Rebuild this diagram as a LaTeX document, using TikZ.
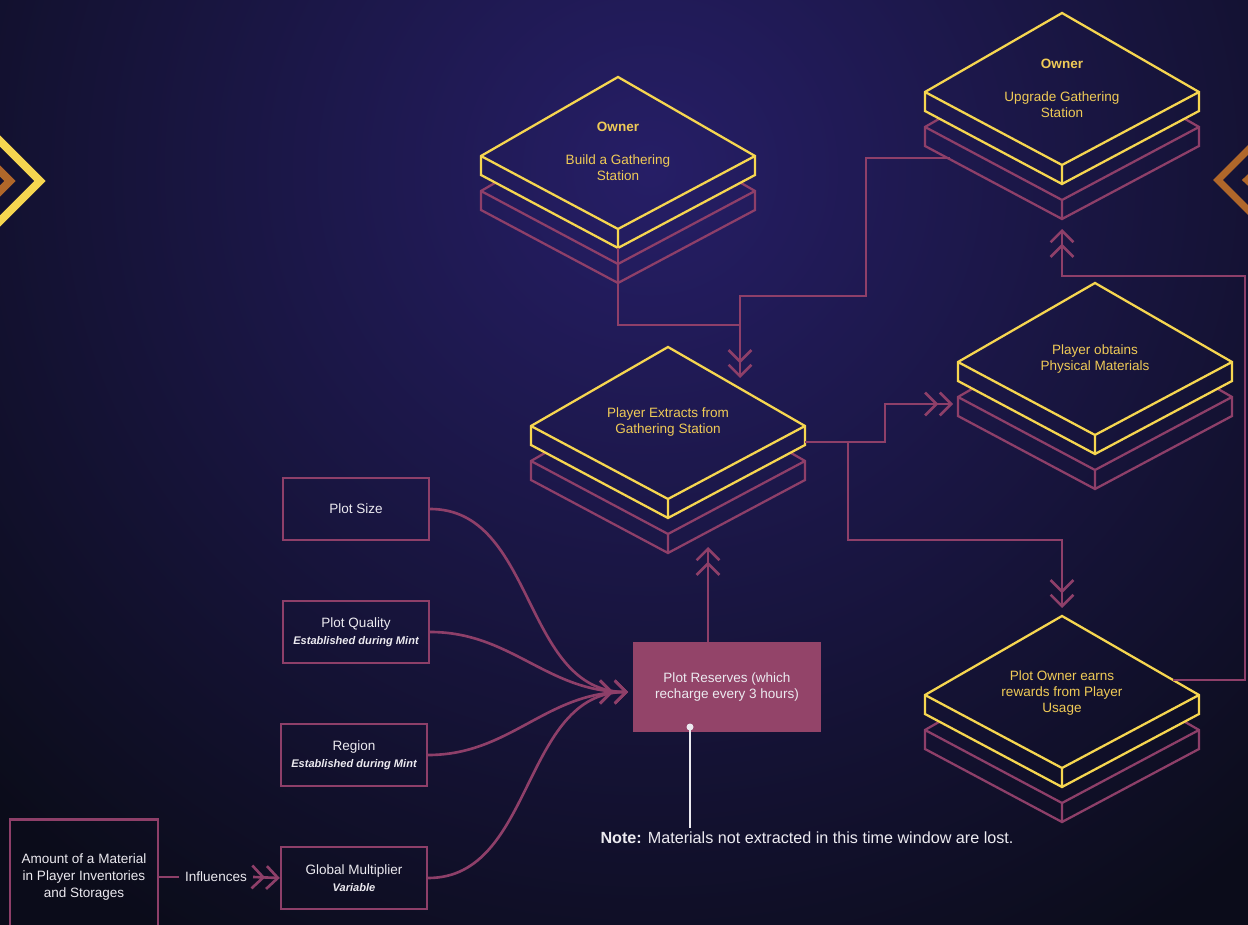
\documentclass[tikz,border=0pt]{standalone}
\usepackage{fontspec}
\setmainfont{Liberation Sans}
\usetikzlibrary{arrows.meta}
\usetikzlibrary{positioning}

\definecolor{bgdark}{HTML}{0B0C1A}
\definecolor{bgglow}{HTML}{261E66}
\definecolor{gold}{HTML}{F6D650}
\definecolor{goldtext}{HTML}{F0CB57}
\definecolor{plum}{HTML}{8E3F69}
\definecolor{plumfill}{HTML}{934469}
\definecolor{amber}{HTML}{B0672A}
\definecolor{paletext}{HTML}{ECEAF0}

\newcommand{\mintline}[1]{{\bfseries\itshape\fontsize{6.3}{7.6}\selectfont #1}}

\begin{document}
\begin{tikzpicture}[x=0.02cm,y=-0.02cm,
    >={Straight Barb[length=6.5pt,width=13pt]},
    rim/.style={line width=1.3pt,line join=miter},
    link/.style={plum,line width=1.5pt},
    slabtxt/.style={text=goldtext,align=center,font=\fontsize{7.7}{9.1}\selectfont},
    ownertxt/.style={text=goldtext,font=\bfseries\fontsize{7.7}{9.1}\selectfont},
    factor/.style={draw=plum,line width=1.4pt,text=paletext,align=center,
        minimum width=2.92cm,minimum height=1.24cm,inner sep=0pt,
        font=\fontsize{7.7}{9.6}\selectfont},
    slab/.pic={
        % plum slab underneath, hidden where the gold one sits
        \begin{scope}[even odd rule]
            \clip (-170,-30) rectangle (170,250)
                (0,0) -- (137,79) -- (137,98) -- (0,171) -- (-137,98) -- (-137,79) -- cycle;
            \draw[plum,rim] (0,35) -- (137,114) -- (137,133) -- (0,206) -- (-137,133) -- (-137,114) -- cycle
                (-137,114) -- (0,187) -- (137,114) (0,187) -- (0,206);
        \end{scope}
        \draw[gold,rim] (0,0) -- (137,79) -- (137,98) -- (0,171) -- (-137,98) -- (-137,79) -- cycle
            (-137,79) -- (0,152) -- (137,79) (0,152) -- (0,171);
        \coordinate (-base) at (0,171);
        \coordinate (-east) at (137,95);
    }
]
\useasboundingbox (0,0) rectangle (1248,925);
\clip (0,0) rectangle (1248,925);

% background
\fill[bgdark] (0,0) rectangle (1248,925);
\shade[inner color=bgglow,outer color=bgdark] (650,170) ellipse (920 and 900);

% side marks
\draw[gold,line width=4.5pt,line join=miter] (-10,131) -- (40,181) -- (-10,231);
\draw[amber,line width=4.5pt,line join=miter] (-12,159) -- (10,181) -- (-12,203);
\draw[amber,line width=4pt,line join=miter] (1258,140) -- (1218,180) -- (1258,220);
\draw[amber,line width=4pt,line join=miter] (1262,166) -- (1247,180) -- (1262,194);

% slabs
\pic (build) at (618,77) {slab};
\pic (upgrade) at (1062,13) {slab};
\pic (extract) at (668,347) {slab};
\pic (obtain) at (1095,283) {slab};
\pic (earn) at (1062,616) {slab};

\node[ownertxt] (buildowner) at (618,127) {Owner};
\node[slabtxt] (buildtxt) at (618,168) {Build a Gathering\\Station};
\node[ownertxt] (upgradeowner) at (1062,64) {Owner};
\node[slabtxt] (upgradetxt) at (1062,105) {Upgrade Gathering\\Station};
\node[slabtxt] (extracttxt) at (668,422) {Player Extracts from\\Gathering Station};
\node[slabtxt] (obtaintxt) at (1095,359) {Player obtains\\Physical Materials};
\node[slabtxt] (earntxt) at (1062,693) {Plot Owner earns\\rewards from Player\\Usage};

% inputs
\node[factor] (size) at (356,509) {Plot Size};
\node[factor] (quality) at (356,632) {Plot Quality\\\mintline{Established during Mint}};
\node[factor] (region) at (354,755) {Region\\\mintline{Established during Mint}};
\node[factor] (global) at (354,878) {Global Multiplier\\\mintline{Variable}};
\node[factor,minimum width=2.96cm,minimum height=2.3cm] (amount) at (84,877)
    {Amount of a Material\\in Player Inventories\\and Storages};
\node[text=paletext,font=\fontsize{7.7}{9}\selectfont] (infl) at (216,877) {Influences};

\node[fill=plumfill,text=paletext,align=center,minimum width=3.76cm,minimum height=1.8cm,
    font=\fontsize{7.7}{9.4}\selectfont] (reserves) at (727,687)
    {Plot Reserves (which\\recharge every 3 hours)};

\node[text=paletext,font=\fontsize{9.2}{11}\selectfont] (note) at (807,838)
    {\textbf{Note:} Materials not extracted in this time window are lost.};

% connector ends
\coordinate (resin) at (628,692);
\coordinate (extin) at (740,378);
\coordinate (extup) at (708,547);
\coordinate (upgout) at (950,158);
\coordinate (upgin) at (1062,229);
\coordinate (obtin) at (953,404);
\coordinate (split) at (848,442);
\coordinate (earnin) at (1062,608);
\coordinate (earnout) at (1173,680);
\coordinate (pin) at (690,727);

% connectors
\draw[link] (build-base) |- (740,325);
\draw[link,->>] (upgout) -| (866,296) -| (extin);
\draw[link,->>] (extract-east) -- ++(80,0) |- (obtin);
\draw[link,->>] (split) -- (848,540) -| (earnin);
\draw[link,->>] (earnout) -| (1245,276) -| (upgin);
\draw[link,->>] (reserves.north -| extup) -- (extup);

\draw[link,->>] (size.east) to[out=0,in=180] (resin);
\draw[link,->>] (quality.east) to[out=0,in=180] (resin);
\draw[link,->>] (region.east) to[out=0,in=180] (resin);
\draw[link,->>] (global.east) to[out=0,in=180] (resin);

\draw[link] (amount.east) -- (infl.west);
\draw[link,->>] (infl.east) -- (global.west);

\draw[paletext,line width=1pt] (pin) -- ([yshift=-1pt]pin |- note.north);
\fill[paletext] (pin) circle (3.5);
\end{tikzpicture}
\end{document}
